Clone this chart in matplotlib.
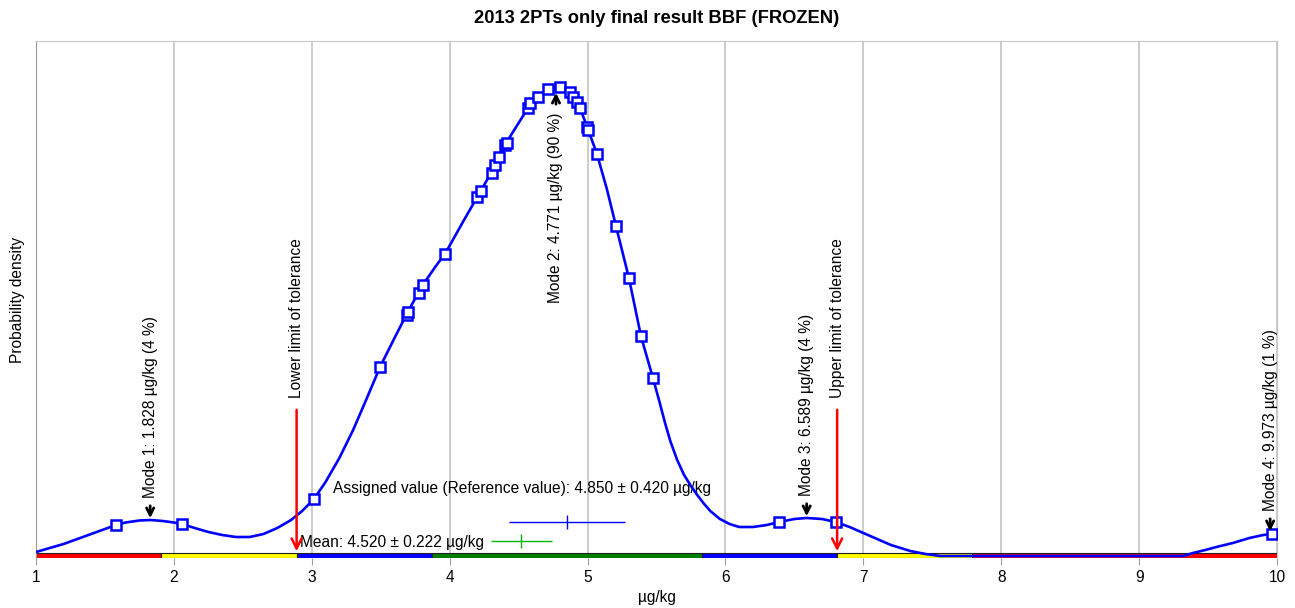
import numpy as np
import matplotlib
matplotlib.use("Agg")
import matplotlib.pyplot as plt
from matplotlib.patches import Rectangle

plt.rcParams['font.family'] = ['Liberation Sans', 'DejaVu Sans']

# density curve (arbitrary units)
curve_x = [1.00, 1.10, 1.20, 1.30, 1.40, 1.50, 1.58, 1.65, 1.75, 1.83, 1.92, 2.00, 2.06, 2.15,
           2.25, 2.35, 2.45, 2.55, 2.65, 2.75, 2.85, 2.93, 3.016, 3.10, 3.20, 3.30, 3.40, 3.495,
           3.60, 3.70, 3.80, 3.90, 3.966, 4.10, 4.20, 4.30, 4.40, 4.50, 4.568, 4.64, 4.713, 4.77,
           4.80, 4.872, 4.923, 4.945, 5.00, 5.068, 5.14, 5.206, 5.30, 5.387, 5.474, 5.52, 5.56,
           5.60, 5.65, 5.70, 5.75, 5.79, 5.84, 5.89, 5.96, 6.03, 6.10, 6.20, 6.30, 6.39, 6.50,
           6.589, 6.70, 6.80, 6.90, 7.00, 7.10, 7.20, 7.34, 7.45, 7.56, 8.00, 8.50, 9.00, 9.32,
           9.39, 9.48, 9.56, 9.68, 9.80, 9.90, 9.963, 10.0]
curve_y = [4, 8, 12, 17, 22, 27, 31, 33.5, 35.5, 36, 35, 33.5, 32, 28,
           24, 21, 19, 19, 22, 28, 36, 45, 57, 74, 98, 126, 158, 189,
           218, 245, 270, 290, 302, 335, 359, 383, 411, 433, 448, 459, 467, 469.5,
           469, 464, 454, 448, 428, 402, 367, 330, 278, 220, 178, 155, 134,
           115, 96, 81, 70, 62, 53, 45, 37, 32, 29, 29, 31, 34, 37,
           38, 37, 34, 29, 23, 17, 11, 5, 2, 0, 0, 0, 0, 0,
           3, 6, 9, 13, 18, 21, 22, 23]

# participant results on the curve
res_x = [1.580, 2.059, 3.016, 3.495, 3.690, 3.698, 3.777, 3.806, 3.966, 4.198, 4.227, 4.307,
         4.329, 4.358, 4.401, 4.416, 4.568, 4.582, 4.640, 4.713, 4.800, 4.872, 4.894, 4.923,
         4.945, 4.996, 5.003, 5.068, 5.206, 5.300, 5.387, 5.474, 6.388, 6.801, 9.963]
res_y = [31, 32, 57, 189, 241, 244, 263, 271, 302, 359, 365, 383,
         391, 399, 411, 413, 448, 453, 459, 467, 469, 464, 459, 454,
         448, 429, 426, 402, 330, 278, 220, 178, 34, 34, 22]

assigned, assigned_u = 4.850, 0.420
mean, mean_u = 4.520, 0.222
lower, upper = 2.89, 6.81

modes = [1.828, 4.771, 6.589, 9.973]
mode_pct = [4, 90, 4, 1]
mode_y = [36, 469, 38, 23]

zone_edges = [1.0, 1.91, 2.89, 3.87, 5.83, 6.81, 7.79, 10.0]
zone_cols = ['#ff0000', '#ffff00', '#0000ff', '#008000', '#0000ff', '#ffff00', '#ff0000']

fig = plt.figure(figsize=(12.95, 6.08), dpi=100)
ax = fig.add_axes([36/1295, 50/608, 1241/1295, 517/608])
ax.set_xlim(1, 10)
ax.set_ylim(-2, 515)

for xv in range(2, 11):
    ax.axvline(xv, color='#c8c8c8', lw=1.3, zorder=0)

# zone bar
for i in range(len(zone_cols)):
    ax.add_patch(Rectangle((zone_edges[i], -2), zone_edges[i+1]-zone_edges[i], 5.5,
                           facecolor=zone_cols[i], edgecolor='#202020', lw=0.8, zorder=2))

ax.plot(curve_x, curve_y, color='#0000ff', lw=1.9, zorder=4)
ax.plot(res_x, res_y, 's', mfc='white', mec='#0000ff', mew=1.8, ms=6.5, zorder=5)

fs = 11.2
# tolerance limits
for xv, lab in [(lower, 'Lower limit of tolerance'), (upper, 'Upper limit of tolerance')]:
    ax.annotate('', xy=(xv, 2), xytext=(xv, 149),
                arrowprops=dict(arrowstyle='->', color='red', lw=1.8, mutation_scale=18), zorder=6)
    ax.text(xv, 158, lab, rotation=90, ha='center', va='bottom', fontsize=fs)

# modes
for i, m in enumerate(modes):
    lab = 'Mode %d: %.3f \u00b5g/kg (%d %%)' % (i+1, m, mode_pct[i])
    if i == 1:
        ax.annotate('', xy=(m, mode_y[i]-3), xytext=(m, mode_y[i]-20),
                    arrowprops=dict(arrowstyle='->', color='black', lw=2, mutation_scale=13), zorder=6)
        ax.text(m, mode_y[i]-26, lab, rotation=90, ha='center', va='top', fontsize=fs)
    else:
        xm = min(m, 9.95)
        ax.annotate('', xy=(xm, mode_y[i]-1), xytext=(xm, mode_y[i]+17),
                    arrowprops=dict(arrowstyle='->', color='black', lw=2, mutation_scale=13), zorder=6)
        ax.text(xm, mode_y[i]+22, lab, rotation=90, ha='center', va='bottom', fontsize=fs)

# assigned value and mean
ax.text(3.154, 68, 'Assigned value (Reference value): %.3f \u00b1 %.3f \u00b5g/kg' % (assigned, assigned_u),
        ha='left', va='center', fontsize=fs)
ax.errorbar([assigned], [34], xerr=[assigned_u], color='#0000ff', lw=1, capsize=0, zorder=3)
ax.plot([assigned], [34], '|', color='#0000ff', ms=10, mew=1)
ax.text(2.914, 14, 'Mean: %.3f \u00b1 %.3f \u00b5g/kg' % (mean, mean_u), ha='left', va='center', fontsize=fs)
ax.errorbar([mean], [15], xerr=[mean_u], color='#00b400', lw=1, capsize=0, zorder=3)
ax.plot([mean], [15], '|', color='#00b400', ms=10, mew=1)

ax.set_xticks(range(1, 11))
ax.set_yticks([])
ax.tick_params(axis='x', length=5, color='#a0a0a0', labelsize=fs, pad=4)
for s in ['top', 'right']:
    ax.spines[s].set_color('#c8c8c8')
ax.spines['left'].set_color('#999999')
ax.spines['bottom'].set_visible(False)
ax.set_xlabel('\u00b5g/kg', fontsize=fs, labelpad=3)
ax.set_ylabel('Probability density', fontsize=fs, labelpad=8)
ax.set_title('2013 2PTs only final result BBF (FROZEN)', fontsize=13.2, fontweight='bold', pad=13)

fig.savefig('out.png', dpi=100)
